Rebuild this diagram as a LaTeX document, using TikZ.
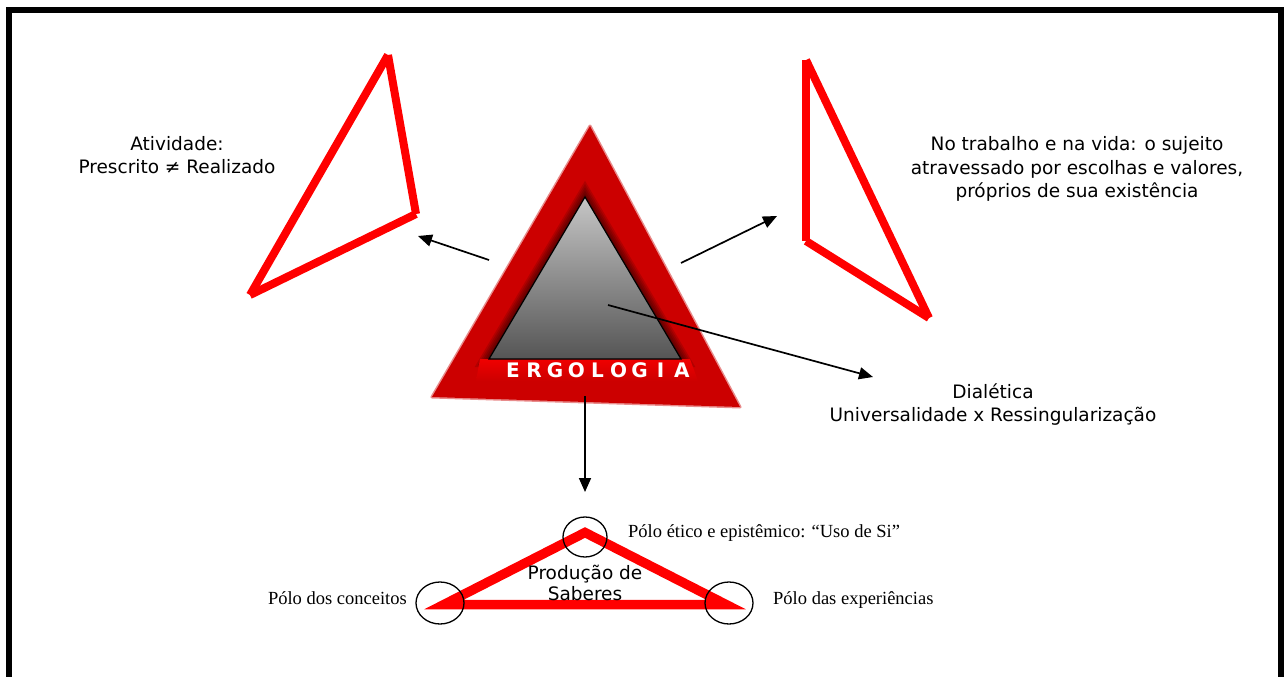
\documentclass[tikz,border=0pt]{standalone}
\usepackage{fontspec}
\setmainfont{DejaVu Sans}
\newfontfamily\serifft{Liberation Serif}
\usetikzlibrary{arrows.meta,calc}
\definecolor{ergored}{RGB}{204,0,0}
\definecolor{brightred}{RGB}{255,0,0}
\definecolor{hired}{RGB}{240,0,0}
\definecolor{greytop}{RGB}{198,198,198}
\definecolor{greybot}{RGB}{85,85,85}
\begin{document}
\begin{tikzpicture}[x=1pt,y=-1pt,
  sanslabel/.style={font=\fontsize{18.5}{23.5}\selectfont, inner sep=0pt, anchor=base},
  serlabel/.style={font=\serifft\fontsize{18.5}{22}\selectfont, inner sep=0pt},
  ergo/.style={font=\bfseries\fontsize{20}{20}\selectfont, text=white, inner sep=0pt, anchor=base},
  conn/.style={line width=1.7pt, -{Triangle[length=14pt,width=12pt]}},
  redline/.style={draw=brightred, line width=8pt},
  polo/.style={draw=black, line width=1.3pt}
]
\useasboundingbox (0,0) rectangle (1285,677);
\clip (0,0) rectangle (1285,677);

% frame
\draw[line width=6pt] (9,10) rectangle (1281,720);

% big triangle
\fill[ergored] (432,397) -- (590,126) -- (740,407) -- cycle;
\draw[ergored, opacity=.45, line width=3pt, line join=round] (432,397) -- (590,126) -- (740,407) -- cycle;

\coordinate (GA) at (585,197);
\coordinate (GB) at (489,359);
\coordinate (GC) at (681,359);
\coordinate (GM) at (585,305);
\foreach \f in {1.15,1.12,1.09,1.06,1.03}{
  \fill[black, opacity=0.13] ($(GM)!\f!(GA)$) -- ($(GM)!\f!(GB)$) -- ($(GM)!\f!(GC)$) -- cycle;
}
% highlight band
\shade[top color=hired, bottom color=ergored] (480,359) -- (690,359) -- (698,381) -- (476,381) -- cycle;
% grey triangle
\shade[top color=greytop, bottom color=greybot] (GA) -- (GB) -- (GC) -- cycle;
\draw[black, line width=1.2pt, line join=miter] (GA) -- (GB) -- (GC) -- cycle;

\foreach \l [count=\i from 0] in {E,R,G,O,L,O,G,I,A}{
  \node[ergo] (erg\i) at (513+21.1*\i,377.5) {\l};
}

% left open triangle
\draw[redline] (388,55) -- (416,214);
\draw[redline] (416,214) -- (250,295);
\draw[redline] (250,295) -- (388,55);
% right open triangle
\draw[redline] (806,60) -- (806,241);
\draw[redline] (806,241) -- (929,318);
\draw[redline] (929,318) -- (806,60);

% labels
\node[sanslabel] (act1) at (177,150.5) {Atividade:};
\node[sanslabel] (act2) at (177,173.5) {Prescrito ≠ Realizado};

\node[sanslabel] (suj1) at (1077,150.5) {No trabalho e na vida: o sujeito};
\node[sanslabel] (suj2) at (1077,174) {atravessado por escolhas e valores,};
\node[sanslabel] (suj3) at (1077,197) {próprios de sua existência};

\node[sanslabel] (dia1) at (993,398.5) {Dialética};
\node[sanslabel] (dia2) at (993,421.5) {Universalidade x Ressingularização};

% arrows
\coordinate (aLs) at (489,260);
\coordinate (aLe) at (418,236);
\coordinate (aRs) at (681,263);
\coordinate (aRe) at (777,216);
\coordinate (aDs) at (608,305);
\coordinate (aDe) at (873,377);
\coordinate (aBs) at (585,396);
\coordinate (aBe) at (585,492);
\draw[conn] (aLs) -- (aLe);
\draw[conn] (aRs) -- (aRe);
\draw[conn] (aDs) -- (aDe);
\draw[conn] (aBs) -- (aBe);

% bottom triangle
\coordinate (PL) at (444,604.5);
\coordinate (PR) at (726,604.5);
\coordinate (PT) at (585,532.5);
\draw[draw=brightred, line width=9.5pt, line join=miter] (PL) -- (PR) -- (PT) -- cycle;

\node[sanslabel] (prod1) at (585,579) {Produção de};
\node[sanslabel] (prod2) at (585,600.5) {Saberes};

\draw[polo] (585,537) ellipse [x radius=22, y radius=20];
\draw[polo] (440,603) ellipse [x radius=24, y radius=21];
\draw[polo] (729,603) ellipse [x radius=24, y radius=21];

\node[serlabel, anchor=base west] (pe) at (628,537) {Pólo ético e epistêmico: “Uso de Si”};
\node[serlabel, anchor=base east] (pc) at (407,604) {Pólo dos conceitos};
\node[serlabel, anchor=base west] (px) at (773,604) {Pólo das experiências};
\end{tikzpicture}
\end{document}
